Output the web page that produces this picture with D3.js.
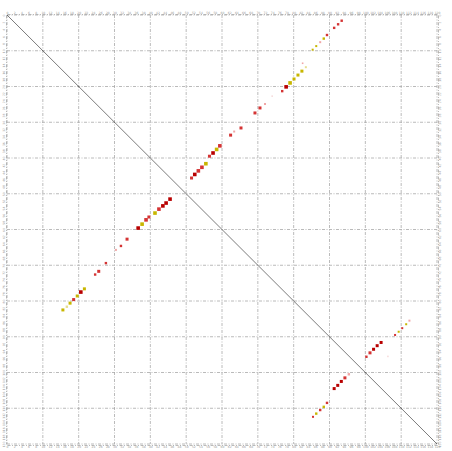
<!DOCTYPE html>
<html>
<head>
<meta charset="utf-8">
<script src="https://cdn.jsdelivr.net/npm/d3@7"></script>
<style>
  body { margin: 0; background: #fff; }
  svg { display: block; }
</style>
</head>
<body>
<div id="vis"></div>
<script>
// chart size
width = 452;
height = 451;
margin = ({top: 15, right: 15, bottom: 7, left: 7});

// alignment blocks: position on x (query) and y (target), identity (%) and length (kb)
let xs = [15.6, 16.7, 17.6, 18.6, 19.6, 20.6, 21.6, 24.6, 25.6, 27.6, 30.4, 31.8, 33.5, 36.6, 37.7, 38.8, 39.6, 41.3, 42.4, 43.5, 44.4, 45.5,
          51.5, 52.4, 53.4, 54.4, 55.5, 56.5, 57.5, 58.5, 59.4, 62.4, 63.4, 65.3, 69.2, 70.6, 72.0, 74.0, 76.8, 77.9, 79.0, 80.1, 81.2, 82.3, 83.4, 82.5,
          85.3, 86.3, 87.4, 88.4, 89.3, 91.3, 92.4, 93.4,
          85.4, 86.3, 87.4, 88.4, 89.3, 91.3, 92.3, 93.3, 94.3, 95.4, 100.3, 101.3, 102.3, 103.3, 104.4, 106.3, 108.3, 109.3, 110.3, 111.4, 112.3];
let ys = [82.5, 81.6, 80.6, 79.6, 78.6, 77.5, 76.6, 72.6, 71.7, 69.4, 65.7, 64.6, 62.7, 59.6, 58.5, 57.3, 56.5, 55.4, 54.3, 53.4, 52.6, 51.5,
          45.6, 44.6, 43.6, 42.6, 41.6, 39.5, 38.6, 37.6, 36.6, 33.6, 32.6, 31.6, 27.4, 26.0, 24.9, 22.7, 21.3, 20.1, 19.0, 17.9, 16.8, 15.7, 14.6, 13.5,
          9.7, 8.7, 7.6, 6.6, 5.6, 3.6, 2.6, 1.6,
          112.4, 111.5, 110.5, 109.6, 108.5, 104.5, 103.6, 102.5, 101.5, 100.5, 95.6, 94.5, 93.5, 92.5, 91.6, 95.5, 89.5, 88.6, 87.6, 86.5, 85.5];
let ident = [93, 90, 93, 98, 93, 99.5, 93, 98, 98, 98, 96, 98, 98, 99.5, 93, 98, 98, 93, 98, 99.5, 99.5, 99.5,
             98, 99.5, 98, 98, 93, 97.5, 99.5, 93, 98, 98, 96, 98, 98, 98, 96, 88, 98, 99.5, 93, 93, 93, 93, 90, 96,
             93, 93, 96, 93, 98, 98, 98, 97.5,
             98, 93, 98, 93, 98, 99.5, 99.5, 99.5, 98, 96, 97.5, 98, 99.5, 99.5, 99.5, 88, 98, 93, 98, 93, 96];
let len = [7.5, 6, 7.5, 7.5, 7.5, 9, 7.5, 6, 7.5, 6, 5, 6, 7.5, 9, 9, 9, 7.5, 9, 9, 9, 9, 9,
           7.5, 9, 9, 9, 9, 7.5, 9, 9, 9, 7.5, 5, 7.5, 7.5, 7.5, 5, 4, 6, 9, 9, 7.5, 7.5, 7.5, 5, 4,
           5, 5, 5, 6, 6, 6, 6, 6,
           5, 6, 6, 6, 6, 7.5, 7.5, 7.5, 7.5, 6, 6, 7.5, 7.5, 7.5, 7.5, 4, 5, 5, 5, 5, 5];

// tick labels along every side
let tickVals = d3.range(0, 121, 2);

let xScale = d3.scaleLinear()
    .domain([0, 120])
    .range([margin.left, width - margin.right]);
let yScale = d3.scaleLinear()
    .domain([0, 120])
    .range([margin.top, height - margin.bottom]);
let sizeScale = d3.scaleLinear()
    .domain([0, 10])
    .range([0, 4]);
let colorScale = d3.scaleThreshold()
    .domain([89, 92, 95, 97, 99])
    .range(["#f6dcdc", "#e6dd90", "#c8b600", "#f0a6a6", "#d43434", "#b80000"]);

let svg = d3.select("#vis").append("svg")
    .attr("width", width).attr("height", height);

// grid
let gridVals = d3.range(0, 121, 10);
svg.append("g").selectAll("line").data(gridVals).enter().append("line")
    .attr("x1", d => xScale(d)).attr("x2", d => xScale(d))
    .attr("y1", yScale(0)).attr("y2", yScale(120))
    .attr("stroke", "#a8a8a8").attr("stroke-width", 0.8)
    .attr("stroke-dasharray", "3,1.5,1,1.5");
svg.append("g").selectAll("line").data(gridVals).enter().append("line")
    .attr("y1", d => yScale(d)).attr("y2", d => yScale(d))
    .attr("x1", xScale(0)).attr("x2", xScale(120))
    .attr("stroke", "#a8a8a8").attr("stroke-width", 0.8)
    .attr("stroke-dasharray", "3,1.5,1,1.5");

// diagonal
svg.append("line")
    .attr("x1", xScale(0)).attr("y1", yScale(0))
    .attr("x2", xScale(120)).attr("y2", yScale(120))
    .attr("stroke", "#222").attr("stroke-width", 0.6);

// blocks
svg.append("g").selectAll("rect").data(xs).enter().append("rect")
    .attr("x", (d, i) => xScale(d) - sizeScale(len[i]) / 2)
    .attr("y", (d, i) => yScale(ys[i]) - sizeScale(len[i]) / 2)
    .attr("width", (d, i) => sizeScale(len[i]))
    .attr("height", (d, i) => sizeScale(len[i]))
    .attr("fill", (d, i) => colorScale(ident[i]));

// axes with tiny labels
let topAxis = svg.append("g").attr("transform", `translate(0,${yScale(0) - 1})`)
    .call(d3.axisTop(xScale).tickValues(tickVals).tickSize(0).tickPadding(0.5));
let bottomAxis = svg.append("g").attr("transform", `translate(0,${yScale(120) + 1})`)
    .call(d3.axisBottom(xScale).tickValues(tickVals).tickSize(0).tickPadding(0.5));
let leftAxis = svg.append("g").attr("transform", `translate(${xScale(0) - 1},0)`)
    .call(d3.axisLeft(yScale).tickValues(tickVals).tickSize(0).tickPadding(0.5));
let rightAxis = svg.append("g").attr("transform", `translate(${xScale(120) + 1},0)`)
    .call(d3.axisRight(yScale).tickValues(tickVals).tickSize(0).tickPadding(0.5));

[topAxis, bottomAxis, leftAxis, rightAxis].forEach(g => {
  g.select(".domain").attr("stroke", "#a8a8a8").attr("stroke-width", 0.8).attr("stroke-dasharray", "3,1.5,1,1.5");
  g.selectAll("text").attr("font-size", 3).attr("fill", "#999").attr("font-family", "DejaVu Sans");
});
leftAxis.selectAll("text").attr("transform", "rotate(-90)").attr("x", 0).attr("dy", "0.35em")
    .attr("y", -2).style("text-anchor", "middle");
rightAxis.selectAll("text").attr("transform", "rotate(-90)").attr("x", 0).attr("dy", "0.35em")
    .attr("y", 2).style("text-anchor", "middle");
</script>
</body>
</html>
